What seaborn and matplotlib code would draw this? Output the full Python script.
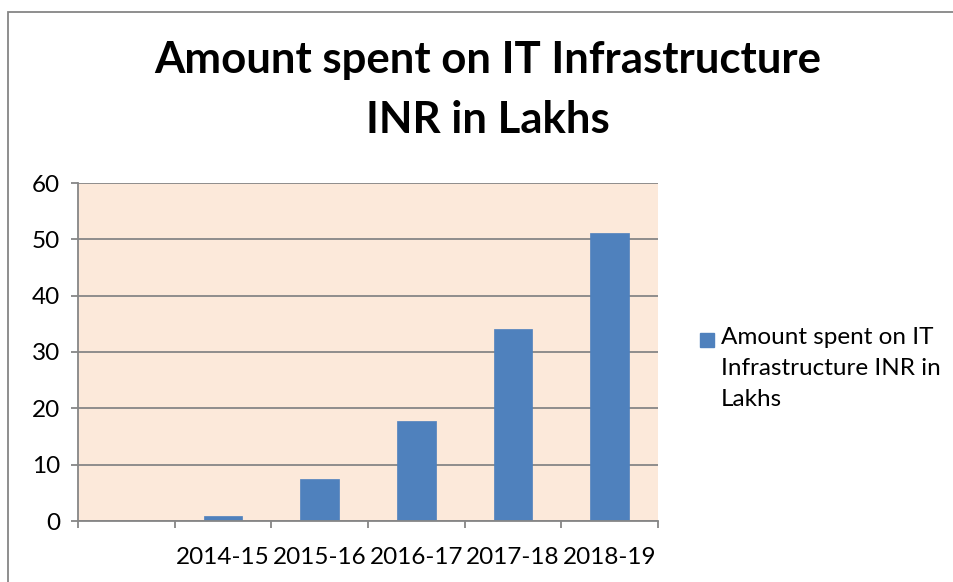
import matplotlib
matplotlib.use("Agg")
import matplotlib.pyplot as plt
import matplotlib.patches as mpatches
import numpy as np
import pandas as pd
import seaborn as sns

# Chart data
years = ["", "2014-15", "2015-16", "2016-17", "2017-18", "2018-19"]
bar_years = ["2014-15", "2015-16", "2016-17", "2017-18", "2018-19"]
amounts = [0.9, 7.5, 17.7, 34.1, 51.1]
legend_label = "Amount spent on IT\nInfrastructure INR in\nLakhs"
y_ticks = [0, 10, 20, 30, 40, 50, 60]

df = pd.DataFrame({"year": bar_years, "amount": amounts})

sns.set_theme(style="white")
plt.rcParams["font.family"] = ["Lato", "DejaVu Sans"]
plt.rcParams["text.color"] = "black"

grey = "#868686"
bar_color = "#4F81BD"

fig = plt.figure(figsize=(9.54, 5.82), dpi=100)
ax = fig.add_axes([78 / 954, 61 / 582, 580 / 954, 338 / 582])
ax.set_facecolor("#FCE9DA")

sns.barplot(data=df, x="year", y="amount", order=years, color=bar_color,
            width=0.4, saturation=1, ax=ax, edgecolor=bar_color, linewidth=0.5)

ax.set_ylim(0, 60)
ax.set_yticks(y_ticks)
ax.set_yticklabels([str(v) for v in y_ticks], fontsize=17.5, color="black")
ax.grid(axis="y", color=grey, linewidth=1.3)
ax.set_axisbelow(True)

# ticks at category borders, labels centred under categories
ax.set_xlim(-0.5, len(years) - 0.5)
ax.set_xticks(np.arange(len(years) + 1) - 0.5)
ax.set_xticklabels([])
ax.set_xticks(np.arange(len(years)), minor=True)
ax.set_xticklabels(years, minor=True, fontsize=17.5, color="black")
ax.tick_params(axis="x", which="major", length=5, width=1.3, color=grey, direction="out", bottom=True)
ax.tick_params(axis="x", which="minor", length=0, pad=19)
ax.tick_params(axis="y", length=5, width=1.3, color=grey, direction="out", left=True, pad=8)
ax.set_xlabel("")
ax.set_ylabel("")

for side in ["top", "right"]:
    ax.spines[side].set_visible(False)
for side in ["left", "bottom"]:
    ax.spines[side].set_color(grey)
    ax.spines[side].set_linewidth(1.3)

fig.suptitle("Amount spent on IT Infrastructure\nINR in Lakhs", x=488 / 954, y=1 - 40 / 582,
             fontsize=31.5, fontweight="bold", linespacing=1.6, color="black")

# legend: key square beside the first line of the wrapped series name
fig.add_artist(mpatches.Rectangle((700 / 954, 1 - 347 / 582), 14 / 954, 14 / 582,
                                  transform=fig.transFigure, color=bar_color))
fig.text(721 / 954, 1 - 327 / 582, legend_label, fontsize=17.5, va="top",
         ha="left", linespacing=1.6, color="black")

# outer chart frame
fig.add_artist(mpatches.Rectangle((8 / 954, -0.1), 1.2, 1 - 12 / 582 + 0.1,
                                  transform=fig.transFigure, fill=False,
                                  edgecolor=grey, linewidth=1.3))

fig.savefig("out.png", dpi=100)
